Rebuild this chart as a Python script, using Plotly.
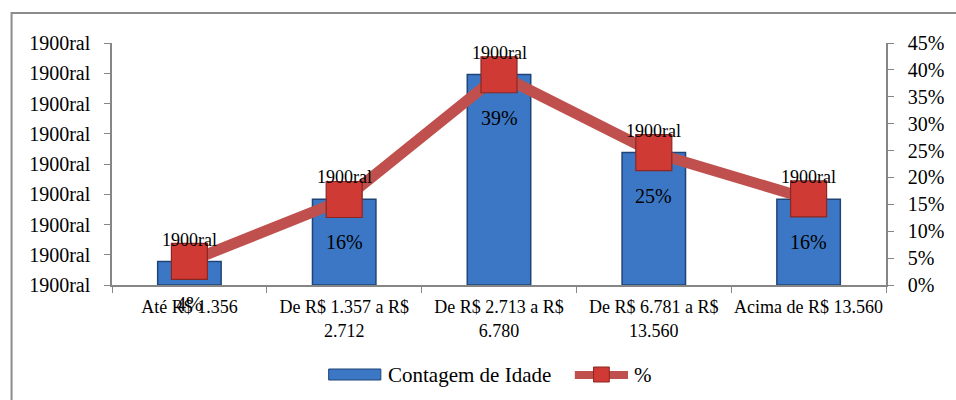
import numpy as np
import plotly.graph_objects as go

categories = ["Até R$ 1.356", "De R$ 1.357 a R$<br>2.712", "De R$ 2.713 a R$<br>6.780",
              "De R$ 6.781 a R$<br>13.560", "Acima de R$ 13.560"]
counts = [9, 33, 81, 51, 33]          # Contagem de Idade
pct = [0.044, 0.159, 0.391, 0.246, 0.160]  # %
count_label = "1900ral"
left_tick_labels = ["1900ral"] * 9
pct_ticks = [0, 0.05, 0.10, 0.15, 0.20, 0.25, 0.30, 0.35, 0.40, 0.45]

total = sum(counts)
left_max = 0.45 * total

FONT = "Liberation Serif"
W, H = 956, 400
L, R, T, B = 112, 58, 43, 115
PW, PH = W - L - R, H - T - B

def px(x):
    return (x - L) / PW

def py(y):
    return (H - B - y) / PH

fig = go.Figure()
fig.add_trace(go.Bar(
    x=categories, y=counts, name="Contagem de Idade", width=0.41,
    marker=dict(color="#3b77c4", line=dict(color="#1f4577", width=1.5)),
    yaxis="y", showlegend=False,
))
fig.add_trace(go.Scatter(
    x=categories, y=pct, name="%", mode="lines+markers", yaxis="y2",
    line=dict(color="#c0504d", width=11),
    marker=dict(symbol="square", size=36, color="#cf3b34",
                line=dict(color="#8a2723", width=1.2)),
    showlegend=False,
))

ann = []
for c, v in zip(categories, counts):
    ann.append(dict(x=c, y=v, xref="x", yref="y", text=count_label, showarrow=False,
                    yshift=22, font=dict(family=FONT, size=18, color="black")))
for c, p in zip(categories, pct):
    ann.append(dict(x=c, y=p, xref="x", yref="y2", text=f"{round(p*100)}%", showarrow=False,
                    yshift=-43, font=dict(family=FONT, size=20, color="black")))

# legend (drawn)
ann.append(dict(x=px(390), y=py(375), xref="paper", yref="paper", xanchor="left", yanchor="middle",
                text="Contagem de Idade", showarrow=False, font=dict(family=FONT, size=21, color="black")))
ann.append(dict(x=px(640), y=py(375), xref="paper", yref="paper", xanchor="left", yanchor="middle",
                text="%", showarrow=False, font=dict(family=FONT, size=21, color="black")))

shapes = [
    dict(type="rect", xref="paper", yref="paper", x0=px(10), x1=px(975), y0=py(13), y1=py(420),
         line=dict(color="#8c8c8c", width=2), fillcolor="rgba(0,0,0,0)"),
    dict(type="rect", xref="paper", yref="paper", x0=px(332), x1=px(385), y0=py(369), y1=py(380),
         line=dict(color="#1f4577", width=1), fillcolor="#3b77c4"),
    dict(type="line", xref="paper", yref="paper", x0=px(582), x1=px(636), y0=py(375), y1=py(375),
         line=dict(color="#c0504d", width=8)),
    dict(type="rect", xref="paper", yref="paper", x0=px(601), x1=px(617), y0=py(367), y1=py(382),
         line=dict(color="#8a2723", width=1), fillcolor="#cf3b34"),
]

axis_line = "#868686"
fig.update_layout(
    width=W, height=H,
    margin=dict(l=L, r=R, t=T, b=B, pad=0),
    paper_bgcolor="white", plot_bgcolor="white",
    font=dict(family=FONT, color="black"),
    bargap=0.59,
    xaxis=dict(showline=True, linecolor=axis_line, linewidth=1.5, ticks="outside",
               tickson="boundaries", ticklen=6, tickcolor=axis_line, showgrid=False,
               tickfont=dict(family=FONT, size=18), tickangle=0, zeroline=False,
               ticklabelstandoff=5),
    yaxis=dict(range=[0, left_max], tickvals=list(np.linspace(0, left_max, 9)),
               ticktext=left_tick_labels, showline=True, linecolor=axis_line, linewidth=1.5,
               ticks="outside", ticklen=6, tickcolor=axis_line, showgrid=False, zeroline=False,
               tickfont=dict(family=FONT, size=20), ticklabelstandoff=10),
    yaxis2=dict(range=[0, 0.45], tickvals=pct_ticks, ticktext=[f"{round(t*100)}%" for t in pct_ticks],
                overlaying="y", side="right", showline=True, linecolor=axis_line, linewidth=1.5,
                ticks="outside", ticklen=6, tickcolor=axis_line, showgrid=False, zeroline=False,
                tickfont=dict(family=FONT, size=20), ticklabelstandoff=10),
    annotations=ann, shapes=shapes, showlegend=False,
)

fig.write_html("out.html", config={"displayModeBar": False},
               post_script="document.body.style.margin='0';document.body.style.overflow='hidden';")
